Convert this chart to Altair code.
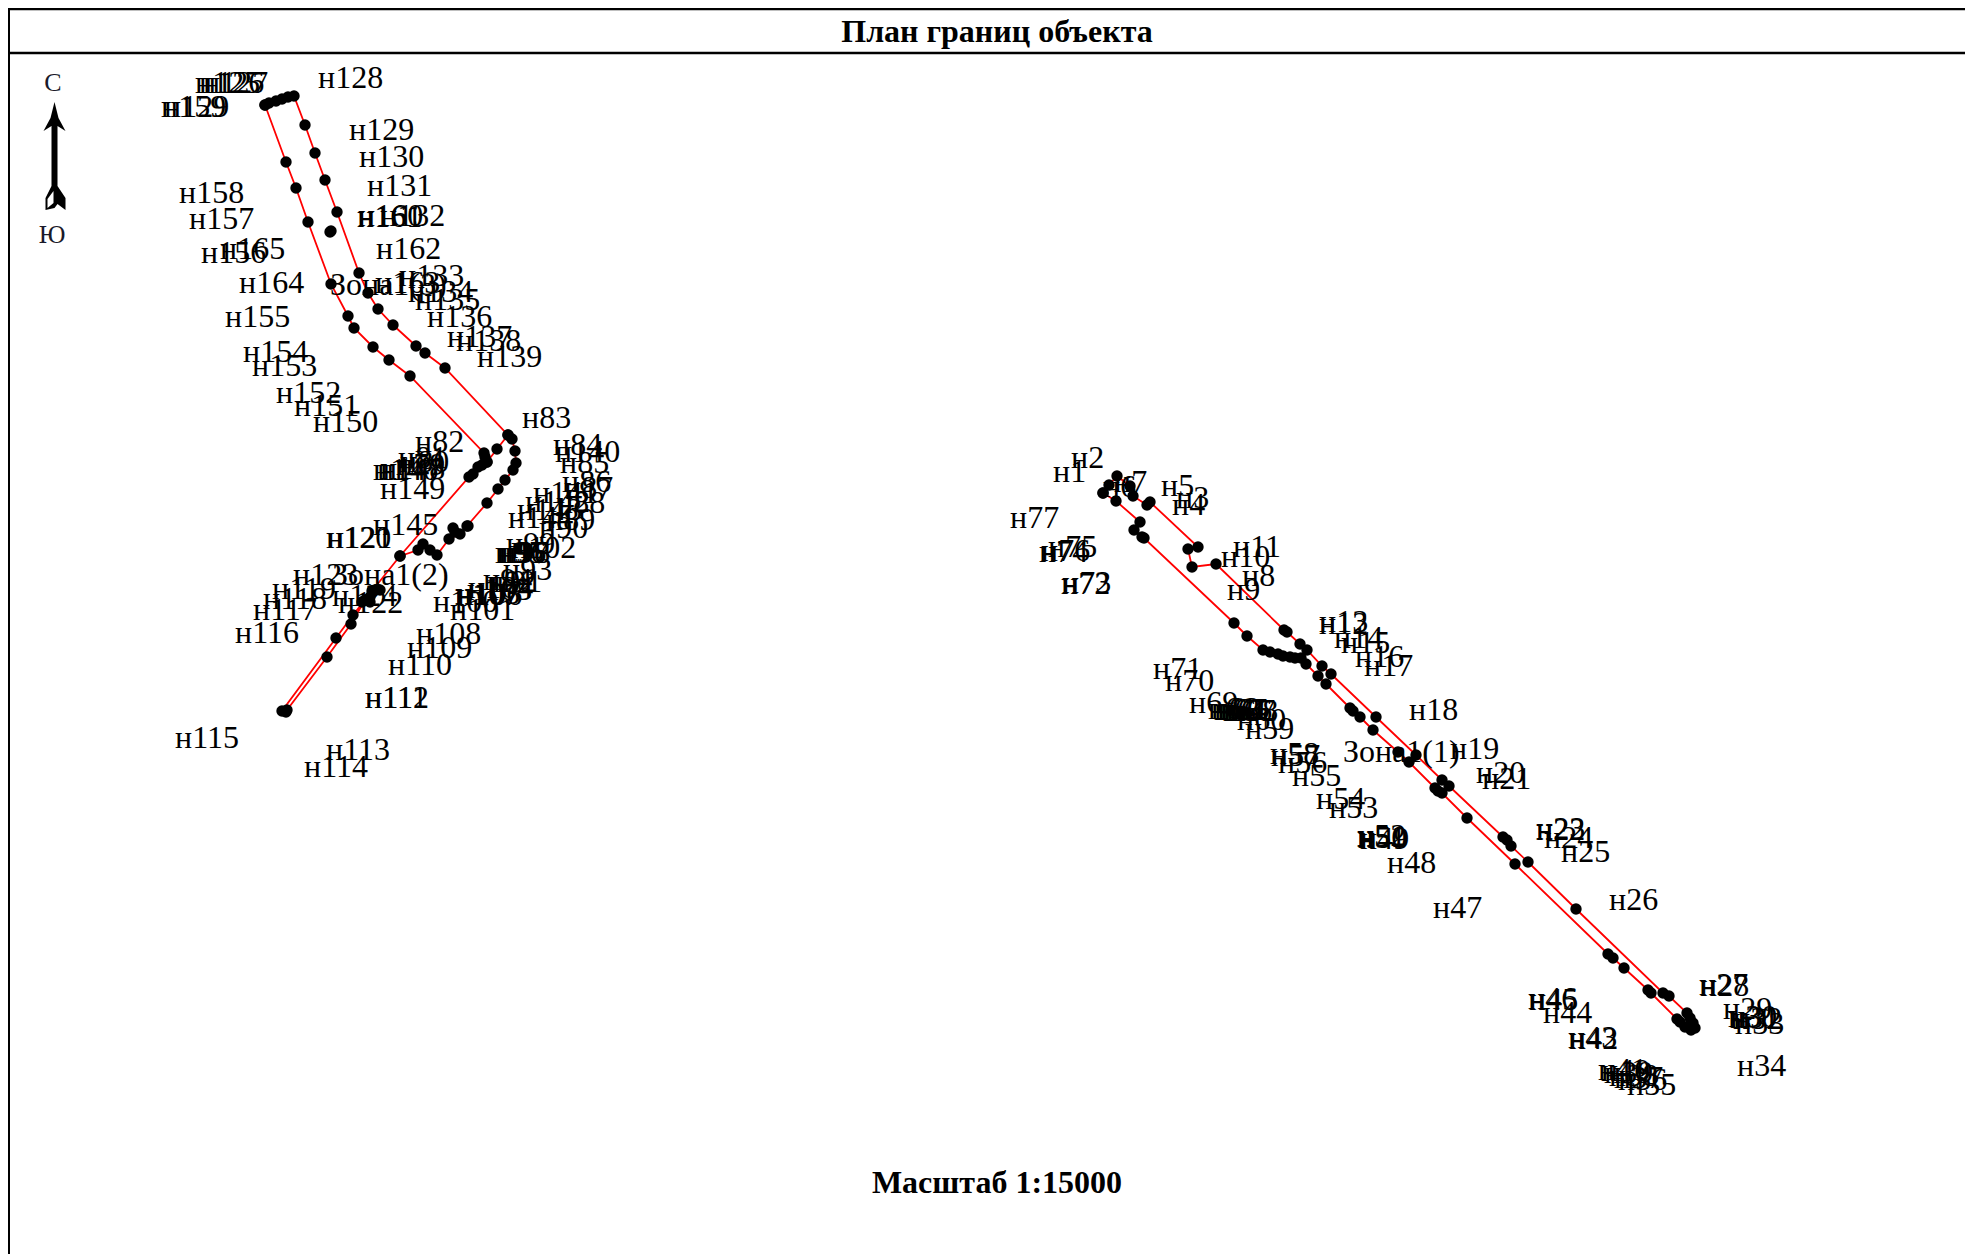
import altair as alt
import pandas as pd

# Map coordinates of the boundary rings (surveyed vertices)
ring_east = [(1103,493),(1109,485),(1117,476),(1130,486),(1133,496),(1147,505),(1150,502),(1198,547),(1188,549),(1192,567),(1216,564),(1284,630),(1287,632),(1300,644),(1307,650),(1322,666),(1331,674),(1376,717),(1416,755),(1442,780),(1449,786),(1503,837),(1507,840),(1511,846),(1528,862),(1576,909),(1663,993),(1669,996),(1687,1013),(1690,1018),(1693,1023),(1695,1028),(1691,1030),(1685,1027),(1680,1022),(1677,1019),(1651,993),(1648,990),(1624,968),(1613,958),(1608,954),(1515,864),(1467,818),(1442,793),(1438,791),(1435,788),(1409,762),(1398,752),(1373,730),(1360,717),(1353,711),(1350,708),(1326,684),(1318,676),(1306,664),(1301,658),(1295,658),(1290,657),(1283,656),(1278,654),(1270,652),(1263,650),(1247,636),(1234,623),(1144,538),(1142,537),(1134,530),(1140,522),(1116,501),(1103,493)]
ring_west_a = [(265,105),(269,103),(276,101),(282,99),(288,97),(294,96),(305,125),(315,153),(325,180),(337,212),(359,273),(368,293),(378,309),(393,325),(416,346),(425,353),(445,368),(508,435),(512,439),(515,451),(516,463),(513,470),(505,480),(498,489),(487,503),(467,526),(460,534),(449,539),(437,555),(430,550),(423,544),(418,550),(400,556),(469,477),(473,474),(478,467),(482,465),(487,462),(485,457),(484,453),(410,376),(389,360),(373,347),(354,328),(348,316),(331,284),(308,222),(296,188),(286,162),(265,105)]
ring_west_b = [(400,556),(372,591),(353,615),(336,638),(282,711),(286,712),(287,710),(327,657),(351,624),(365,600),(370,597),(380,590)]
ring_west_c = [(508,435),(497,449),(487,462)]
extra_points = [(330,232),(331,231),(453,528),(455,532),(362,602),(370,602),(375,590),(468,526)]

# Vertex labels: text, left edge, vertical centre
labels_east = [("н1",1053,472),("н2",1071,458),("н3",1176,498),("н4",1172,505),("н5",1161,486),("н6",1103,487),("н7",1114,482),("н8",1242,576),("н9",1227,590),("н10",1221,557),("н11",1233,547),("н12",1319,624),("н13",1319,622),("н14",1334,638),("н15",1341,643),("н16",1355,657),("н17",1364,666),("н18",1409,710),("н19",1450,749),("н20",1476,773),("н21",1482,779),("н22",1536,830),("н23",1536,829),("н24",1544,838),("н25",1561,852),("н26",1609,900),("н27",1699,985),("н28",1700,986),("н29",1723,1009),("н30",1728,1017),("н31",1730,1018),("н32",1733,1019),("н33",1735,1024),("н34",1737,1066),("н35",1627,1085),("н36",1618,1080),("н37",1614,1078),("н38",1609,1076),("н39",1604,1073),("н40",1601,1071),("н41",1598,1070),("н42",1569,1039),("н43",1568,1038),("н44",1543,1013),("н45",1529,1000),("н46",1528,999),("н47",1433,908),("н48",1387,863),("н49",1360,839),("н50",1358,838),("н51",1357,837),("н52",1357,836),("н53",1329,808),("н54",1316,799),("н55",1292,776),("н56",1278,763),("н57",1271,756),("н58",1270,754),("н59",1245,729),("н60",1237,720),("н61",1208,709),("н62",1211,709),("н63",1214,710),("н64",1217,710),("н65",1220,710),("н66",1223,711),("н67",1226,711),("н68",1229,711),("н69",1189,703),("н70",1165,681),("н71",1153,669),("н72",1061,584),("н73",1062,583),("н74",1039,552),("н75",1048,547),("н76",1041,551),("н77",1010,518)]
labels_west = [("н83",522,418),("н84",553,445),("н140",555,452),("н85",560,463),("н86",562,482),("н87",564,488),("н88",556,503),("н89",546,520),("н90",539,528),("н102",511,548),("н141",533,493),("н142",525,502),("н143",517,510),("н144",508,518),("н95",495,553),("н96",497,553),("н97",499,553),("н98",501,553),("н99",506,544),("н93",503,570),("н94",483,580),("н92",487,582),("н91",493,582),("н103",455,594),("н104",468,588),("н105",467,590),("н106",457,595),("н107",455,595),("н101",450,610),("н100",433,602),("н108",416,634),("н109",407,648),("н110",388,665),("н111",365,698),("н112",365,698),("н113",326,750),("н114",304,767),("н115",175,738),("н116",235,633),("н117",253,610),("н118",263,599),("н119",272,589),("н123",293,575),("н120",326,538),("н121",327,538),("н122",338,603),("н124",332,596),("н145",373,525),("н146",373,470),("н147",377,470),("н148",380,469),("н149",380,489),("н79",396,465),("н80",400,462),("н81",398,458),("н82",415,442),("н125",195,83),("н126",199,83),("н127",203,83),("н159",161,107),("н129",164,107),("н128",318,78),("н129",349,130),("н130",359,157),("н131",367,186),("н132",380,216),("н160",358,216),("н161",357,217),("н162",376,249),("н163",375,283),("н133",399,276),("н134",408,292),("н135",415,300),("н136",427,317),("н137",447,337),("н138",456,341),("н139",477,357),("н158",179,193),("н157",189,219),("н156",201,253),("н165",220,249),("н164",239,283),("н155",225,317),("н154",243,352),("н153",252,366),("н152",276,393),("н151",294,406),("н150",313,422)]
zone_labels = [("Зона1(1)",1343,752),("Зона1(2)",332,575),("Зона1(3)",330,285)]
compass_labels = [("С",53,83),("Ю",52,235)]
titles = [("План границ объекта",997,32),("Масштаб 1:15000",997,1183)]

# Frame lines of the drawing sheet
frame_h = [(8,1965,9),(8,1965,53)]
frame_v = [(8,9,1254)]

arrow_path = "M0,-54 L4,-38 L11,-25 L3,-30 L3,30 L11,42 L11,54 L3,48 L0,52 L-9,54 L-9,42 L-3,30 L-3,-30 L-11,-25 L-4,-38 Z"
arrow_hole = "M-7,52 L-7,43 L-1,35 L-1,47 Z"

W, H = 1957, 1246
X = alt.Scale(domain=[8, 1965], range=[0, W], nice=False, zero=False)
Y = alt.Scale(domain=[1254, 8], range=[H, 0], nice=False, zero=False)
x_enc = alt.X("x:Q", scale=X, axis=None)
y_enc = alt.Y("y:Q", scale=Y, axis=None)

def ring(points, name):
    return pd.DataFrame([{"x": a, "y": b, "i": i, "ring": name} for i, (a, b) in enumerate(points)])

rings = pd.concat([ring(ring_east, "e"), ring(ring_west_a, "a"), ring(ring_west_b, "b"), ring(ring_west_c, "c")])
dots = pd.concat([rings, ring(extra_points, "x")])

lines = alt.Chart(rings).mark_line(color="#ff0000", strokeWidth=1.8).encode(
    x=x_enc, y=y_enc, detail="ring:N", order="i:Q")
points = alt.Chart(dots).mark_circle(color="#000000", size=130, opacity=1).encode(x=x_enc, y=y_enc)

def text_df(rows):
    return pd.DataFrame([{"t": t, "x": a, "y": b} for t, a, b in rows])

vertex = alt.Chart(text_df(labels_east + labels_west + zone_labels)).mark_text(
    font="Liberation Serif", fontSize=32, align="left", baseline="middle", color="#000000"
).encode(x=x_enc, y=y_enc, text="t:N")
compass = alt.Chart(text_df(compass_labels)).mark_text(
    font="Liberation Serif", fontSize=26, align="center", baseline="middle", color="#1a1a2a"
).encode(x=x_enc, y=y_enc, text="t:N")
heading = alt.Chart(text_df(titles)).mark_text(
    font="Liberation Serif", fontSize=32, fontWeight="bold", align="center", baseline="middle", color="#000000"
).encode(x=x_enc, y=y_enc, text="t:N")

frame_a = alt.Chart(pd.DataFrame(frame_h, columns=["x", "x2", "y"])).mark_rule(color="#000000", strokeWidth=2.5).encode(
    x=x_enc, x2="x2:Q", y=y_enc)
frame_b = alt.Chart(pd.DataFrame(frame_v, columns=["x", "y", "y2"])).mark_rule(color="#000000", strokeWidth=4).encode(
    x=x_enc, y=y_enc, y2="y2:Q")

arrow_df = pd.DataFrame([{"x": 54.5, "y": 156}])
arrow = alt.Chart(arrow_df).mark_point(shape=arrow_path, size=4, filled=True, color="#000000", opacity=1).encode(x=x_enc, y=y_enc)
arrow_w = alt.Chart(arrow_df).mark_point(shape=arrow_hole, size=4, filled=True, color="#ffffff", opacity=1).encode(x=x_enc, y=y_enc)

chart = alt.layer(frame_a, frame_b, lines, points, vertex, heading, compass, arrow, arrow_w).properties(
    width=W, height=H, padding=0, autosize=alt.AutoSizeParams(type="none")
).configure_view(stroke=None)

chart.save("out.html", embed_options={"renderer": "svg", "actions": False})
